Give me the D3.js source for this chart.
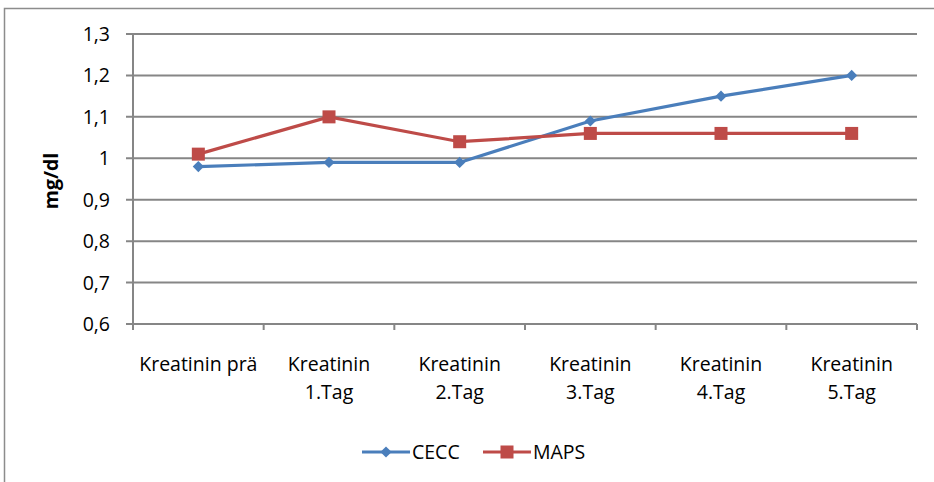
<!DOCTYPE html>
<html><head><meta charset="utf-8">
<script src="https://cdn.jsdelivr.net/npm/d3@7"></script>
<style>body{margin:0;background:#fff}svg{display:block}text{font-family:"Open Sans",sans-serif;fill:#000}</style>
</head><body>
<script>
const categories = [["Kreatinin prä"],["Kreatinin","1.Tag"],["Kreatinin","2.Tag"],["Kreatinin","3.Tag"],["Kreatinin","4.Tag"],["Kreatinin","5.Tag"]];
const cecc = [0.98, 0.99, 0.99, 1.09, 1.15, 1.20];
const maps = [1.01, 1.10, 1.04, 1.06, 1.06, 1.06];
const yTicks = [0.6, 0.7, 0.8, 0.9, 1.0, 1.1, 1.2, 1.3];
const seriesNames = ["CECC", "MAPS"];
const colors = ["#4A7EBB", "#BE4B48"];

const W = 934, H = 482;
const FS = 19.5;
const svg = d3.select("body").append("svg").attr("width", W).attr("height", H);
const L = 133, R = 917, T = 34, B = 324;
svg.append("rect").attr("x",4.5).attr("y",8.5).attr("width",W+10).attr("height",H+10).attr("fill","#fff").attr("stroke","#8c8c8c").attr("stroke-width",1.5);

const x = d3.scaleBand().domain(d3.range(categories.length)).range([L, R]);
const y = d3.scaleLinear().domain([0.6, 1.3]).range([B, T]);

svg.append("g").selectAll("line").data(yTicks).join("line")
  .attr("x1", L-7).attr("x2", R).attr("y1", d=>y(d)).attr("y2", d=>y(d))
  .attr("stroke", "#868686").attr("stroke-width", 2);
svg.append("line").attr("x1",L).attr("x2",L).attr("y1",T).attr("y2",B+6).attr("stroke","#868686").attr("stroke-width",2);
const bounds = d3.range(categories.length+1).map(i => i < categories.length ? x(i) : x(categories.length-1)+x.bandwidth());
svg.append("g").selectAll("line").data(bounds).join("line")
  .attr("x1", d=>d).attr("x2", d=>d).attr("y1", B).attr("y2", B+6)
  .attr("stroke","#868686").attr("stroke-width",2);
svg.append("g").selectAll("text").data(yTicks).join("text")
  .attr("x", L-23).attr("y", d=>y(d)).attr("dy","0.36em").attr("text-anchor","end")
  .attr("font-size",FS).text(d=>d3.format(".1f")(d).replace(".0","").replace(".",","));
const xl = svg.append("g").selectAll("text").data(categories).join("text")
  .attr("text-anchor","middle").attr("font-size",FS)
  .attr("transform",(d,i)=>`translate(${x(i)+x.bandwidth()/2},${371})`);
xl.selectAll("tspan").data(d=>d).join("tspan").attr("x",0).attr("dy",(d,i)=>i?28:0).text(d=>d);
svg.append("text").attr("transform",`translate(58,${181}) rotate(-90)`).attr("text-anchor","middle")
  .attr("font-size",FS).attr("font-weight","bold").text("mg/dl");

const line = d3.line().x((d,i)=>x(i)+x.bandwidth()/2).y(d=>y(d));
const data = [cecc, maps];
data.forEach((s, k) => {
  svg.append("path").datum(s).attr("d", line).attr("fill","none").attr("stroke",colors[k]).attr("stroke-width",3.2);
});
function marker(g, k, cx, cy){
  if(k===0) g.append("path").attr("d",d3.symbol(d3.symbolDiamond2, 80)()).attr("transform",`translate(${cx},${cy})`).attr("fill",colors[0]);
  else g.append("rect").attr("x",cx-6.5).attr("y",cy-6.5).attr("width",13).attr("height",13).attr("fill",colors[1]);
}
data.forEach((s,k)=>{ const g=svg.append("g"); s.forEach((v,i)=>marker(g,k,x(i)+x.bandwidth()/2,y(v))); });

const lg = [{x0:362,name:seriesNames[0]},{x0:483,name:seriesNames[1]}];
lg.forEach((d,k)=>{
  const ly = 452;
  svg.append("line").attr("x1",d.x0).attr("x2",d.x0+48).attr("y1",ly).attr("y2",ly).attr("stroke",colors[k]).attr("stroke-width",3.2);
  marker(svg,k,d.x0+24,ly);
  svg.append("text").attr("x",d.x0+50).attr("y",ly).attr("dy","0.36em").attr("font-size",FS).text(d.name);
});
</script>
</body></html>
